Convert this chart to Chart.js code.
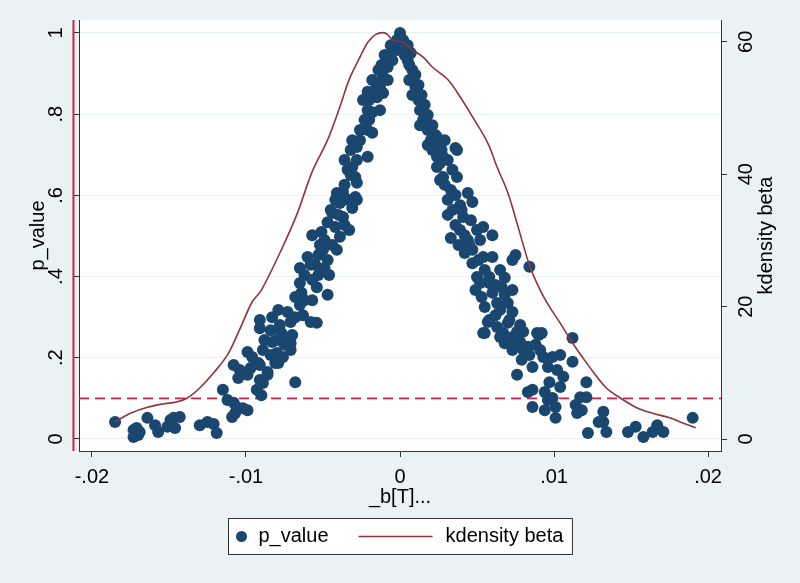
<!DOCTYPE html>
<html>
<head>
<meta charset="utf-8">
<script src="https://cdn.jsdelivr.net/npm/chart.js@4.4.1/dist/chart.umd.min.js"></script>
<style>
  html, body { margin: 0; padding: 0; background: #EAF2F3; }
  canvas { display: block; }
</style>
</head>
<body>
<canvas id="chart" width="800" height="583"></canvas>
<script>
// axis ticks
const xTickVals = [-0.02, -0.01, 0, 0.01, 0.02];
const xTickLabels = ['-.02', '-.01', '0', '.01', '.02'];
const pTickVals = [0, 0.2, 0.4, 0.6, 0.8, 1];
const pTickLabels = ['0', '.2', '.4', '.6', '.8', '1'];
const kdTickVals = [0, 20, 40, 60];
const kdTickLabels = ['0', '20', '40', '60'];

// scatter: placebo beta vs p_value
const betaX = [
  -0.0185, -0.0173, -0.0173, -0.0170, -0.0171, -0.0169, -0.0164, -0.0159, -0.0157, -0.0151,
  -0.0149, -0.0146, -0.0147, -0.0143, -0.0130, -0.0125, -0.0121, -0.0119, -0.0115, -0.0112,
  -0.0108, -0.0106, -0.0102, -0.0109, -0.0107, -0.0099, -0.0108, -0.0104, -0.0105, -0.0099,
  -0.0099, -0.0096, -0.0092, -0.0091, -0.0093, -0.0090, -0.0091, -0.0091, -0.0083, -0.0083,
  -0.0080, -0.0081, -0.0086, -0.0079, -0.0089, -0.0086, -0.0079, -0.0076, -0.0071, -0.0075,
  -0.0080, -0.0077, -0.0071, -0.0070, -0.0068, -0.0089, -0.0073, -0.0068, -0.0063, -0.0058,
  -0.0054, -0.0068, -0.0064, -0.0065, -0.0057, -0.0054, -0.0047, -0.0065, -0.0060, -0.0055,
  -0.0053, -0.0050, -0.0049, -0.0046, -0.0047, -0.0057, -0.0051, -0.0047, -0.0042, -0.0039,
  -0.0041, -0.0037, -0.0033, -0.0039, -0.0041, -0.0037, -0.0031, -0.0029, -0.0034, -0.0031,
  -0.0028, -0.0029, -0.0028, -0.0021, -0.0026, -0.0021, -0.0020, -0.0018, -0.0020, -0.0015,
  -0.0013, -0.0011, -0.0008, -0.0007, -0.0005, -0.0002, 0.0000, -0.0018, -0.0013, -0.0011,
  -0.0008, -0.0005, -0.0002, -0.0034, -0.0044, -0.0028,
  -0.0024, -0.0021, -0.0016, -0.0023, -0.0026, -0.0028, -0.0032, -0.0031, -0.0036, -0.0018,
  -0.0014, -0.0010, -0.0006, -0.0012, -0.0015, -0.0021,
  -0.0045, -0.0042, -0.0036, -0.0032, -0.0049, -0.0052, -0.0044, -0.0040, -0.0036, -0.0053,
  -0.0058, -0.0062, -0.0057,
  -0.0084, -0.0088, -0.0078, -0.0071, -0.0075, -0.0084, -0.0091, -0.0097, -0.0065, -0.0062,
  0.0002, 0.0003, 0.0005, 0.0008, 0.0008, 0.0011, 0.0012, 0.0013, 0.0015, 0.0018,
  0.0020, 0.0021, 0.0024, 0.0026, 0.0031, 0.0036, 0.0007, 0.0010, 0.0016, 0.0020,
  0.0024, 0.0028, 0.0037, 0.0024, 0.0028, 0.0034, 0.0037, 0.0033, 0.0031, 0.0044,
  0.0047, 0.0034, 0.0041, 0.0046, 0.0033, 0.0039, 0.0050, 0.0054, 0.0060, 0.0044,
  0.0042, 0.0047, 0.0054, 0.0060, 0.0047, 0.0050, 0.0058, 0.0065, 0.0068, 0.0058,
  0.0049, 0.0053, 0.0060, 0.0066, 0.0073, 0.0063, 0.0070, 0.0073, 0.0058, 0.0063,
  0.0054, 0.0067, 0.0071, 0.0080, 0.0089, 0.0083, 0.0075, 0.0084, 0.0055, 0.0065,
  0.0057, 0.0065, 0.0076, 0.0080, 0.0068, 0.0073, 0.0090, 0.0092, 0.0112, 0.0079,
  0.0076, 0.0086, 0.0093, 0.0099, 0.0104, 0.0096, 0.0102, 0.0106, 0.0112, 0.0097,
  0.0104, 0.0086, 0.0083, 0.0094, 0.0096, 0.0099, 0.0101, 0.0086, 0.0094, 0.0101,
  0.0121, 0.0117, 0.0121, 0.0114, 0.0118, 0.0115, 0.0129, 0.0132, 0.0132, 0.0134,
  0.0122, 0.0148, 0.0153, 0.0158, 0.0164, 0.0167, 0.0171, 0.0190, 0.0073, 0.0070,
  0.0052, 0.0055, 0.0073, 0.0026,
  0.0005, 0.0006, 0.0010, 0.0012, 0.0014, 0.0016, 0.0018, 0.0021, 0.0023, 0.0025,
  0.0027, 0.0029, 0.0006, 0.0013, 0.0018, 0.0003, 0.0008,
  0.0029, 0.0036, 0.0039, 0.0031, 0.0036, 0.0042, 0.0045, 0.0038, 0.0051, 0.0055,
  0.0052, 0.0040,
  0.0062, 0.0068, 0.0071, 0.0078, 0.0062, 0.0078, 0.0084, 0.0075, 0.0088, 0.0091
];
const pValue = [
  0.042, 0.005, 0.022, 0.010, 0.027, 0.017, 0.052, 0.034, 0.017, 0.030,
  0.047, 0.027, 0.052, 0.054, 0.034, 0.042, 0.037, 0.015, 0.121, 0.096,
  0.089, 0.079, 0.076, 0.054, 0.064, 0.071, 0.182, 0.170, 0.150, 0.158,
  0.214, 0.202, 0.187, 0.145, 0.121, 0.108, 0.293, 0.273, 0.300, 0.239,
  0.212, 0.187, 0.165, 0.318, 0.138, 0.158, 0.187, 0.202, 0.219, 0.251,
  0.244, 0.261, 0.236, 0.256, 0.140, 0.219, 0.313, 0.300, 0.305, 0.288,
  0.286, 0.350, 0.360, 0.384, 0.342, 0.374, 0.355, 0.421, 0.448, 0.429,
  0.404, 0.466, 0.421, 0.404, 0.441, 0.502, 0.510, 0.534, 0.522, 0.498,
  0.466, 0.547, 0.515, 0.581, 0.606, 0.608, 0.569, 0.596, 0.663, 0.670,
  0.631, 0.645, 0.687, 0.695, 0.736, 0.761, 0.786, 0.805, 0.835, 0.842,
  0.867, 0.892, 0.916, 0.941, 0.966, 0.983, 1.000, 0.754, 0.810, 0.852,
  0.884, 0.933, 0.958, 0.589, 0.557, 0.589,
  0.835, 0.810, 0.860, 0.786, 0.761, 0.719, 0.712, 0.736, 0.687, 0.884,
  0.909, 0.946, 0.970, 0.921, 0.872, 0.855,
  0.564, 0.589, 0.626, 0.650, 0.490, 0.478, 0.478, 0.552, 0.527, 0.453,
  0.429, 0.404, 0.392,
  0.268, 0.244, 0.281, 0.288, 0.232, 0.207, 0.182, 0.175, 0.330, 0.342,
  0.983, 0.958, 0.933, 0.909, 0.884, 0.860, 0.835, 0.810, 0.786, 0.761,
  0.736, 0.712, 0.695, 0.680, 0.687, 0.717, 0.951, 0.867, 0.803, 0.768,
  0.744, 0.695, 0.712, 0.670, 0.645, 0.663, 0.645, 0.613, 0.589, 0.606,
  0.584, 0.564, 0.547, 0.539, 0.495, 0.515, 0.515, 0.522, 0.502, 0.490,
  0.458, 0.466, 0.448, 0.448, 0.433, 0.399, 0.399, 0.416, 0.397, 0.384,
  0.367, 0.350, 0.360, 0.374, 0.367, 0.335, 0.335, 0.313, 0.293, 0.276,
  0.261, 0.261, 0.244, 0.264, 0.261, 0.227, 0.453, 0.424, 0.325, 0.318,
  0.288, 0.251, 0.264, 0.219, 0.236, 0.219, 0.256, 0.261, 0.249, 0.195,
  0.158, 0.177, 0.202, 0.202, 0.207, 0.177, 0.170, 0.153, 0.190, 0.140,
  0.128, 0.121, 0.116, 0.116, 0.096, 0.101, 0.079, 0.079, 0.071, 0.052,
  0.140, 0.103, 0.103, 0.084, 0.071, 0.064, 0.042, 0.067, 0.042, 0.017,
  0.015, 0.017, 0.030, 0.005, 0.017, 0.034, 0.017, 0.052, 0.441, 0.286,
  0.384, 0.261, 0.251, 0.638,
  0.970, 0.921, 0.897, 0.872, 0.847, 0.823, 0.798, 0.773, 0.749, 0.724,
  0.712, 0.736, 0.884, 0.773, 0.724, 0.946, 0.847,
  0.626, 0.601, 0.576, 0.552, 0.527, 0.502, 0.478, 0.478, 0.441, 0.416,
  0.490, 0.564,
  0.379, 0.355, 0.293, 0.281, 0.305, 0.239, 0.207, 0.232, 0.232, 0.219
];

// kernel density of beta (right axis)
const kdX = [
  -0.0185, -0.0175, -0.0164, -0.0154, -0.0145, -0.0138, -0.0130, -0.0121, -0.0112, -0.0104,
  -0.0096, -0.0090, -0.0078, -0.0067, -0.0057, -0.0047, -0.0039, -0.0033, -0.0026, -0.0021,
  -0.0016, -0.0011, -0.0008, -0.0005, 0.0002, 0.0008, 0.0015, 0.0021, 0.0031, 0.0039,
  0.0047, 0.0057, 0.0063, 0.0070, 0.0076, 0.0084, 0.0091, 0.0097, 0.0104, 0.0112,
  0.0123, 0.0134, 0.0143, 0.0154, 0.0164, 0.0175, 0.0184, 0.0192
];
const kdY = [
  2.6, 3.9, 4.8, 5.3, 5.6, 6.2, 7.7, 10.0, 12.7, 16.6,
  20.7, 22.5, 28.1, 33.9, 40.4, 45.2, 50.2, 54.3, 57.7, 59.9,
  61.1, 61.4, 61.1, 60.3, 59.9, 58.8, 57.7, 56.2, 54.3, 51.7,
  48.7, 44.7, 41.1, 37.2, 32.6, 26.3, 22.5, 20.0, 17.5, 14.5,
  10.9, 7.7, 6.2, 4.7, 3.9, 3.2, 2.4, 1.7
];

// reference lines
const pCut = 0.1;
const xRef = -0.0212;

// axis ranges
const xMin = -0.02084, xMax = 0.02084;
const pMin = -0.0296, pMax = 1.032;
const kdMin = -1.81, kdMax = 63.3;

const navy = '#1A476F';
const maroon = '#90353B';
const crimson = '#D81E48';
const bg = '#EAF2F3';
const font = { family: "'Liberation Sans', Arial, sans-serif", size: 20 };

const backdrop = {
    id: 'backdrop',
    beforeDraw(chart) {
        const { ctx, chartArea: a } = chart;
        ctx.save();
        ctx.fillStyle = bg;
        ctx.fillRect(0, 0, chart.width, chart.height);
        ctx.fillStyle = '#fff';
        ctx.fillRect(a.left, a.top, a.right - a.left, a.bottom - a.top);
        ctx.restore();
    }
};

// right axis title reads bottom-to-top like the left one
const rightTitle = {
    id: 'rightTitle',
    afterDraw(chart) {
        const { ctx, chartArea: a } = chart;
        ctx.save();
        ctx.translate(766, (a.top + a.bottom) / 2);
        ctx.rotate(-Math.PI / 2);
        ctx.font = font.size + 'px ' + font.family;
        ctx.fillStyle = '#000';
        ctx.textAlign = 'center';
        ctx.textBaseline = 'middle';
        ctx.fillText('kdensity beta', 0, 0);
        ctx.restore();
    }
};

// boxed legend below the x title
const boxLegend = {
    id: 'boxLegend',
    afterDraw(chart) {
        const { ctx, chartArea: a } = chart;
        ctx.save();
        ctx.font = font.size + 'px ' + font.family;
        const t1 = 'p_value', t2 = 'kdensity beta';
        const w1 = ctx.measureText(t1).width, w2 = ctx.measureText(t2).width;
        const W = 156 + w1 + w2, H = 36;
        const x0 = Math.round((a.left + a.right) / 2 - W / 2) + 0.5;
        const y0 = 518.5, cy = y0 + H / 2;
        ctx.fillStyle = '#fff';
        ctx.fillRect(x0, y0, W, H);
        ctx.strokeStyle = '#333';
        ctx.lineWidth = 1;
        ctx.strokeRect(x0, y0, W, H);
        ctx.fillStyle = navy;
        ctx.beginPath();
        ctx.arc(x0 + 13, cy, 5.5, 0, Math.PI * 2);
        ctx.fill();
        ctx.fillStyle = '#000';
        ctx.textBaseline = 'middle';
        ctx.fillText(t1, x0 + 30, cy);
        const lx = x0 + 30 + w1 + 30;
        ctx.strokeStyle = maroon;
        ctx.lineWidth = 1.5;
        ctx.beginPath();
        ctx.moveTo(lx, cy);
        ctx.lineTo(lx + 74, cy);
        ctx.stroke();
        ctx.fillText(t2, lx + 87, cy);
        ctx.restore();
    }
};

new Chart(document.getElementById('chart'), {
    type: 'scatter',
    data: {
        datasets: [
            {
                label: 'kdensity beta',
                data: kdX.map((x, i) => ({ x: x, y: kdY[i] })),
                yAxisID: 'y2',
                showLine: true,
                borderColor: maroon,
                borderWidth: 1.6,
                pointRadius: 0,
                tension: 0.35,
                order: 0
            },
            {
                label: 'p_value',
                data: betaX.map((x, i) => ({ x: x, y: pValue[i] })),
                yAxisID: 'y',
                backgroundColor: navy,
                borderWidth: 0,
                pointRadius: 6,
                order: 1
            },
            {
                label: 'yline',
                data: [{ x: xMin, y: pCut }, { x: xMax, y: pCut }],
                yAxisID: 'y',
                showLine: true,
                borderColor: crimson,
                borderWidth: 1.8,
                borderDash: [10, 6],
                pointRadius: 0,
                order: 2
            },
            {
                label: 'xline',
                data: [{ x: xRef, y: pMin }, { x: xRef, y: pMax }],
                yAxisID: 'y',
                showLine: true,
                borderColor: crimson,
                borderWidth: 2,
                pointRadius: 0,
                clip: false,
                order: 2
            }
        ]
    },
    options: {
        responsive: false,
        animation: false,
        events: [],
        layout: { padding: { left: 0, right: 0, top: 20, bottom: 70 } },
        plugins: { legend: { display: false }, tooltip: { enabled: false } },
        scales: {
            x: {
                type: 'linear',
                min: xMin,
                max: xMax,
                afterBuildTicks: s => { s.ticks = xTickVals.map(v => ({ value: v })); },
                afterFit: s => { s.height = 62; },
                ticks: {
                    callback: (v, i) => xTickLabels[i],
                    font: font, color: '#000', padding: 8,
                    maxRotation: 0, autoSkip: false
                },
                grid: { drawOnChartArea: false, tickLength: 6, tickColor: '#333' },
                border: { color: '#333', width: 1 },
                title: { display: true, text: '_b[T]...', font: font, color: '#000', padding: { top: 0, bottom: 4 } }
            },
            y: {
                position: 'left',
                min: pMin,
                max: pMax,
                afterBuildTicks: s => { s.ticks = pTickVals.map(v => ({ value: v })); },
                afterFit: s => { s.width = 79; },
                ticks: {
                    callback: (v, i) => pTickLabels[i],
                    font: font, color: '#000', padding: 8,
                    minRotation: 90, maxRotation: 90, crossAlign: 'center'
                },
                grid: { color: bg, lineWidth: 1, tickLength: 6, tickColor: '#333' },
                border: { color: '#333', width: 1 },
                title: { display: true, text: 'p_value', font: font, color: '#000', padding: { top: 26, bottom: 0 } }
            },
            y2: {
                position: 'right',
                min: kdMin,
                max: kdMax,
                afterBuildTicks: s => { s.ticks = kdTickVals.map(v => ({ value: v })); },
                afterFit: s => { s.width = 79; },
                ticks: {
                    callback: (v, i) => kdTickLabels[i],
                    font: font, color: '#000', padding: 8,
                    minRotation: 90, maxRotation: 90, crossAlign: 'center'
                },
                grid: { drawOnChartArea: false, tickLength: 6, tickColor: '#333' },
                border: { color: '#333', width: 1 }
            }
        }
    },
    plugins: [backdrop, rightTitle, boxLegend]
});
</script>
</body>
</html>
